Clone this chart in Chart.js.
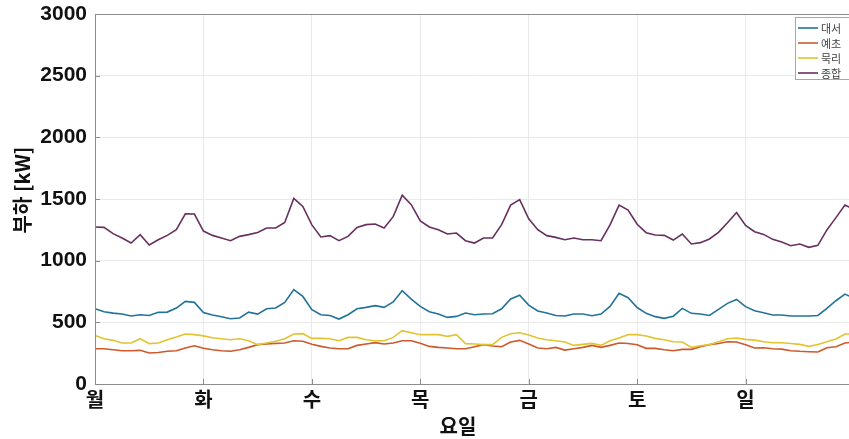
<!DOCTYPE html>
<html>
<head>
<meta charset="utf-8">
<script src="https://cdn.jsdelivr.net/npm/chart.js@4.4.1/dist/chart.umd.min.js"></script>
<style>
  html, body { margin: 0; padding: 0; background: #fff; overflow: hidden; }
  #wrap { position: absolute; left: 0; top: 0; width: 872px; height: 439px; }
</style>
</head>
<body>
<div id="wrap"><canvas id="c" width="872" height="439"></canvas></div>
<script>
// ---- data (hour of week, every 2 h) ----
const dayLabels = ['월', '화', '수', '목', '금', '토', '일'];
const seriesNames = ['대서', '예초', '묵리', '종합'];
const hours = [];
for (let h = 0; h <= 166; h += 2) hours.push(h);
hours.push(168);

const daeseo = [
  610, 586, 575, 567, 551, 562, 556, 581, 583, 616, 670, 662,
  580, 559, 546, 529, 535, 583, 567, 610, 616, 662, 765, 710,
  602, 562, 556, 527, 562, 610, 621, 635, 621, 665, 756, 689,
  629, 586, 567, 540, 548, 575, 562, 567, 570, 610, 690, 720,
  640, 592, 575, 556, 551, 567, 567, 554, 567, 629, 735, 700,
  620, 573, 546, 532, 550, 613, 573, 567, 556, 605, 654, 686,
  627, 594, 578, 559, 559, 551, 551, 551, 556, 613, 675, 729,
  695
];
const yecho = [
  286, 286, 278, 270, 270, 273, 251, 256, 265, 270, 292, 310,
  290, 278, 270, 265, 278, 297, 319, 324, 329, 332, 351, 346,
  323, 305, 292, 286, 286, 313, 324, 335, 324, 332, 351, 351,
  330, 305, 297, 292, 286, 286, 302, 319, 308, 302, 340, 354,
  324, 292, 286, 297, 275, 286, 297, 313, 297, 313, 332, 329,
  318, 289, 289, 278, 270, 281, 281, 302, 319, 329, 343, 340,
  319, 292, 294, 286, 283, 270, 265, 262, 259, 294, 302, 332,
  340
];
const mukri = [
  394, 367, 354, 332, 332, 367, 327, 332, 359, 381, 405, 400,
  390, 375, 367, 359, 367, 351, 319, 332, 346, 367, 405, 408,
  370, 370, 367, 351, 378, 378, 359, 351, 351, 378, 432, 416,
  400, 400, 400, 386, 400, 327, 324, 319, 319, 378, 408, 416,
  397, 373, 359, 351, 340, 313, 321, 329, 313, 351, 373, 400,
  400, 389, 370, 359, 343, 340, 297, 310, 319, 343, 367, 373,
  362, 356, 343, 335, 335, 329, 321, 305, 321, 343, 365, 405,
  405
];
const jonghap = [
  1273, 1270, 1219, 1184, 1143, 1211, 1127, 1170, 1205, 1251, 1380, 1378,
  1240, 1205, 1184, 1162, 1197, 1211, 1229, 1265, 1265, 1310, 1505, 1440,
  1290, 1192, 1203, 1162, 1197, 1270, 1292, 1297, 1265, 1357, 1530, 1454,
  1322, 1273, 1251, 1216, 1224, 1162, 1143, 1184, 1184, 1292, 1450, 1495,
  1340, 1251, 1203, 1189, 1170, 1184, 1170, 1170, 1162, 1290, 1450, 1410,
  1295, 1227, 1208, 1205, 1167, 1216, 1135, 1146, 1176, 1230, 1308, 1390,
  1286, 1235, 1213, 1173, 1151, 1121, 1135, 1108, 1124, 1249, 1349, 1451,
  1415
];
const yTicks = [0, 500, 1000, 1500, 2000, 2500, 3000];

const colors = ['#22739a', '#cc5a2c', '#e2c431', '#67305f'];
const seriesValues = [daeseo, yecho, mukri, jonghap];

const datasets = seriesValues.map((vals, i) => ({
  label: seriesNames[i],
  data: vals.map((v, j) => ({ x: hours[j], y: v })),
  borderColor: colors[i],
  backgroundColor: colors[i],
  borderWidth: 1.6,
  pointRadius: 0,
  tension: 0,
  order: 3 - i
}));

const framePlugin = {
  id: 'frame',
  afterDatasetsDraw(chart) {
    const ctx = chart.ctx, a = chart.chartArea;
    const xs = chart.scales.x, ys = chart.scales.y;
    ctx.save();
    ctx.strokeStyle = '#8c8c8c';
    ctx.lineWidth = 1;
    ctx.strokeRect(a.left + 0.5, a.top + 0.5, a.right - a.left, a.bottom - a.top);
    ctx.beginPath();
    for (let d = 0; d <= 7; d++) {
      const px = Math.round(xs.getPixelForValue(d * 24)) + 0.5;
      ctx.moveTo(px, a.bottom); ctx.lineTo(px, a.bottom - 5);
    }
    yTicks.forEach(v => {
      const py = Math.round(ys.getPixelForValue(v)) + 0.5;
      ctx.moveTo(a.left, py); ctx.lineTo(a.left + 5, py);
    });
    ctx.stroke();
    ctx.restore();
  },
  afterDraw(chart) {
    const ctx = chart.ctx;
    ctx.save();
    ctx.fillStyle = '#111';
    ctx.font = 'bold 20px "Noto Sans CJK KR"';
    ctx.textAlign = 'center';
    ctx.textBaseline = 'middle';
    ctx.fillText('요일', 458, 426);
    ctx.translate(22, 190);
    ctx.rotate(-Math.PI / 2);
    ctx.fillText('부하 [kW]', 0, 0);
    ctx.restore();

    ctx.save();
    const bx = 795.5, by = 17.5, bw = 60, bh = 62;
    ctx.fillStyle = '#fff';
    ctx.fillRect(bx, by, bw, bh);
    ctx.strokeStyle = '#a8a8a8';
    ctx.lineWidth = 1;
    ctx.strokeRect(bx, by, bw, bh);
    ctx.font = '11px "Noto Sans CJK KR"';
    ctx.textAlign = 'left';
    ctx.textBaseline = 'middle';
    const rows = [28, 43, 58, 73];
    seriesNames.forEach((name, i) => {
      ctx.strokeStyle = colors[i];
      ctx.lineWidth = 1.6;
      ctx.beginPath();
      ctx.moveTo(798, rows[i]); ctx.lineTo(818, rows[i]);
      ctx.stroke();
      ctx.fillStyle = '#444';
      ctx.fillText(name, 821, rows[i] + 1);
    });
    ctx.restore();
  }
};

new Chart(document.getElementById('c'), {
  type: 'line',
  data: { datasets },
  options: {
    responsive: false,
    animation: false,
    devicePixelRatio: 1,
    layout: { padding: { top: 14, right: 18, left: 0, bottom: 0 } },
    plugins: { legend: { display: false }, tooltip: { enabled: false } },
    scales: {
      x: {
        type: 'linear',
        min: 0, max: 168,
        afterFit(s) { s.height = 55; s.paddingLeft = 0; s.paddingRight = 0; },
        afterBuildTicks(s) { s.ticks = [0, 24, 48, 72, 96, 120, 144, 168].map(v => ({ value: v })); },
        ticks: {
          autoSkip: false,
          maxRotation: 0,
          padding: 3,
          color: '#111',
          font: { family: '"Noto Sans CJK KR"', size: 20, weight: 'bold' },
          callback: (v) => (v < 168 ? dayLabels[Math.round(v / 24)] : '')
        },
        grid: { color: '#e9e9e9', drawTicks: false },
        border: { display: false }
      },
      y: {
        min: 0, max: 3000,
        afterFit(s) { s.width = 95; s.paddingTop = 0; s.paddingBottom = 0; },
        afterBuildTicks(s) { s.ticks = yTicks.map(v => ({ value: v })); },
        ticks: {
          padding: 8,
          color: '#111',
          font: { family: '"Liberation Sans"', size: 21, weight: 'bold' },
          callback: (v) => String(v)
        },
        grid: { color: '#e9e9e9', drawTicks: false },
        border: { display: false }
      }
    }
  },
  plugins: [framePlugin]
});
</script>
</body>
</html>
